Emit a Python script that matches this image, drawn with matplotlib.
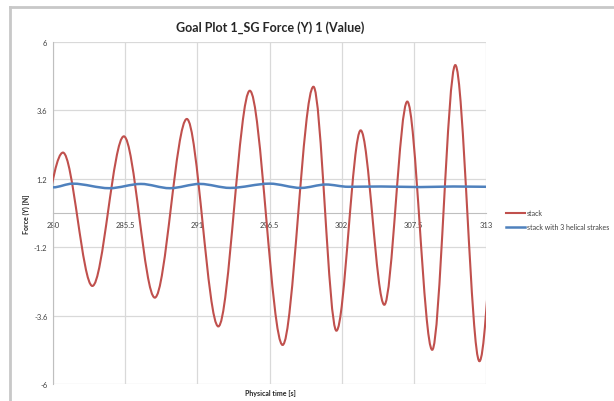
import matplotlib
matplotlib.use("Agg")
import matplotlib.pyplot as plt
import matplotlib.patches as mpatches
from matplotlib.lines import Line2D
from matplotlib.path import Path

plt.rcParams['font.family'] = ['Lato', 'DejaVu Sans']

# peaks / troughs of the red trace (first and last lie just outside the view)
red_t = [278.2, 280.76, 283.0, 285.4, 287.76, 290.2, 292.6, 295.0, 297.5, 299.85,
         301.6, 303.45, 305.25, 307.0, 308.9, 310.66, 312.5, 314.4]
red_v = [-2.3, 2.12, -2.56, 2.69, -2.97, 3.3, -3.98, 4.29, -4.63, 4.43,
         -4.13, 2.9, -3.22, 3.91, -4.8, 5.19, -5.2, 4.5]

# blue trace: small wiggle, then nearly flat
blue_t = [280.0, 281.5, 284.3, 286.7, 288.9, 291.2, 293.5, 296.5, 298.9, 300.8,
          302.5, 305.0, 308.0, 310.5, 313.0]
blue_v = [0.90, 1.03, 0.87, 1.02, 0.87, 1.02, 0.88, 1.03, 0.88, 1.00,
          0.92, 0.93, 0.91, 0.93, 0.92]

x_ticks = [280, 285.5, 291, 296.5, 302, 307.5, 313]
y_ticks = [-6, -3.6, -1.2, 1.2, 3.6, 6]

red = '#c0504d'
blue = '#4f81bd'
grid_c = '#d9d9d9'


def smooth_path(t, v):
    # excel style smoothed line: cubic bezier with flat tangents at each extremum
    verts = [(t[0], v[0])]
    codes = [Path.MOVETO]
    for i in range(len(t) - 1):
        dt = t[i + 1] - t[i]
        verts += [(t[i] + dt / 3, v[i]), (t[i + 1] - dt / 3, v[i + 1]), (t[i + 1], v[i + 1])]
        codes += [Path.CURVE4] * 3
    return Path(verts, codes)


fig = plt.figure(figsize=(6.14, 4.02), dpi=100)
ax = fig.add_axes([53 / 614, 1 - 385 / 402, 433 / 614, 342 / 402])

ax.add_patch(mpatches.PathPatch(smooth_path(red_t, red_v), fill=False, edgecolor=red, lw=1.5, zorder=3))
ax.add_patch(mpatches.PathPatch(smooth_path(blue_t, blue_v), fill=False, edgecolor=blue, lw=1.8, zorder=3))

ax.set_xlim(280, 313)
ax.set_ylim(-6, 6)
ax.set_xticks(x_ticks)
ax.set_xticklabels(['280', '285.5', '291', '296.5', '302', '307.5', '313'])
ax.set_yticks(y_ticks)
ax.set_yticklabels(['-6', '-3.6', '-1.2', '1.2', '3.6', '6'])
ax.grid(True, color=grid_c, lw=0.9)
ax.set_axisbelow(True)

for s in ['top', 'right']:
    ax.spines[s].set_visible(False)
ax.spines['bottom'].set_position(('data', 0))
ax.spines['bottom'].set_color('#bfbfbf')
ax.spines['left'].set_color('#bfbfbf')
ax.tick_params(axis='both', length=0, labelsize=5.5, colors='#404040')
ax.tick_params(axis='x', pad=6)
ax.tick_params(axis='y', pad=4)

fig.text(270 / 614, 1 - 28 / 402, 'Goal Plot 1_SG Force (Y) 1 (Value)', ha='center', va='center',
         fontsize=9, fontweight='bold', color='#262626')
fig.text(270 / 614, 1 - 394 / 402, 'Physical time [s]', ha='center', va='center',
         fontsize=5, fontweight='bold', color='#262626')
fig.text(26 / 614, 1 - 214 / 402, 'Force (Y) [N]', ha='center', va='center', rotation=90,
         fontsize=5, fontweight='bold', color='#262626')

handles = [Line2D([], [], color=red, lw=1.5), Line2D([], [], color=blue, lw=1.8)]
fig.legend(handles, ['stack', 'stack with 3 helical strakes'], loc='upper left',
           bbox_to_anchor=(503 / 614, 1 - 207 / 402), frameon=False, fontsize=5,
           handlelength=2.7, handletextpad=0.2, labelspacing=1.0, borderpad=0,
           labelcolor='#404040')

# chart area border
fig.add_artist(Line2D([9.5 / 614, 9.5 / 614], [0, 1 - 8 / 402], color='#c8c8c8', lw=2))
fig.add_artist(Line2D([9.5 / 614, 1], [1 - 8 / 402, 1 - 8 / 402], color='#c8c8c8', lw=2))

fig.savefig('out.png', dpi=100)
